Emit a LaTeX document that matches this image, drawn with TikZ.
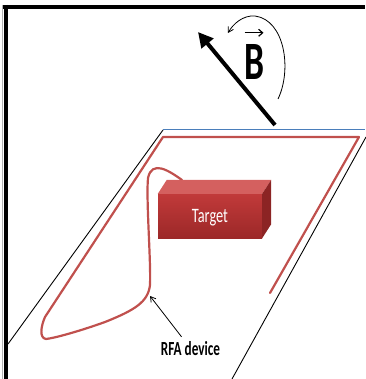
\documentclass[tikz,border=0pt]{standalone}
\usepackage{fontspec}
\usepackage{xcolor}
\usepackage{tikz}
\usetikzlibrary{arrows.meta}

\newfontfamily\narrowsans[FakeStretch=0.7]{Carlito}
\newfontfamily\narrowbold[FakeStretch=0.66]{Carlito Bold}

\definecolor{wirered}{HTML}{C0504D}
\definecolor{planeblue}{HTML}{4A7EBB}
\definecolor{boxtop}{HTML}{D4605F}
\definecolor{boxfront}{HTML}{C13A3A}
\definecolor{boxlow}{HTML}{9C2828}
\definecolor{boxside}{HTML}{8C2424}

\tikzset{
    wire/.style={wirered, line width=2.2pt, line join=round, line cap=round},
    planeedge/.style={black, line width=0.9pt},
    thinarrow/.style={black, line width=0.8pt, -{Straight Barb[length=5pt,width=6pt]}},
}

\begin{document}
\begin{tikzpicture}[x=1pt, y=-1pt]
    \useasboundingbox (0,0) rectangle (365,379);

    % frame
    \draw[gray!60, line width=1pt] (2.5,5) -- (2.5,379);
    \draw[line width=4pt] (3,7) -- (365,7);
    \draw[line width=4pt] (5.5,5) -- (5.5,379);

    % plane
    \draw[planeblue, line width=1pt] (163,130) -- (365,130);
    \draw[planeedge] (163,130) -- (8,344);
    \draw[planeedge] (366,137) -- (232,379);

    % device wire
    \draw[wire] (182,180) .. controls (168,170) and (152,160) .. (148,178)
        .. controls (146,200) and (151,260) .. (150,285)
        .. controls (148,302) and (135,310) .. (105,322)
        .. controls (80,331) and (55,338) .. (46,339)
        .. controls (39,338) and (41,326) .. (45,317)
        -- (163,137) -- (359,137) -- (270,293);
    \coordinate (tip) at (150,296);

    % target box
    \node[minimum width=104pt, minimum height=44pt, inner sep=0pt,
          top color=boxfront, bottom color=boxlow, draw=none,
          text=white, font=\narrowsans\fontsize{20.5}{24}\selectfont,
          text height=13pt, text depth=0pt] (target) at (210,216) {Target};
    \fill[boxtop] (target.north west) -- ++(9,-14) -- ([shift={(9,-14)}]target.north east) -- (target.north east) -- cycle;
    \fill[boxside] (target.north east) -- ++(9,-14) -- ([shift={(9,-14)}]target.south east) -- (target.south east) -- cycle;

    % field vector
    \node[font=\narrowbold\fontsize{54}{60}\selectfont, inner sep=0pt, anchor=base] (bvec) at (254.5,80) {B};
    \draw[black, line width=1.2pt, -{Straight Barb[length=4pt,width=7pt]}] ([shift={(-10,-12)}]bvec.north) -- ([shift={(9,-12)}]bvec.north);
    \coordinate (ftail) at (275,125);
    \coordinate (fhead) at (198,32);
    \draw[line width=4pt, -{Triangle[length=15pt,width=15pt]}] (ftail) -- (fhead);

    % rotation
    \coordinate (rstart) at (278,99);
    \coordinate (rend) at (228,33);
    \draw[thinarrow] (rstart) .. controls (292,70) and (285,20) .. (255,16)
        .. controls (243,15) and (233,24) .. (rend);

    % label
    \node[font=\narrowbold\fontsize{20}{24}\selectfont, inner sep=0pt, anchor=base] (rfa) at (190.5,355) {RFA device};
    \draw[thinarrow] ([shift={(-9,-4)}]rfa.north) -- (tip);
\end{tikzpicture}
\end{document}
